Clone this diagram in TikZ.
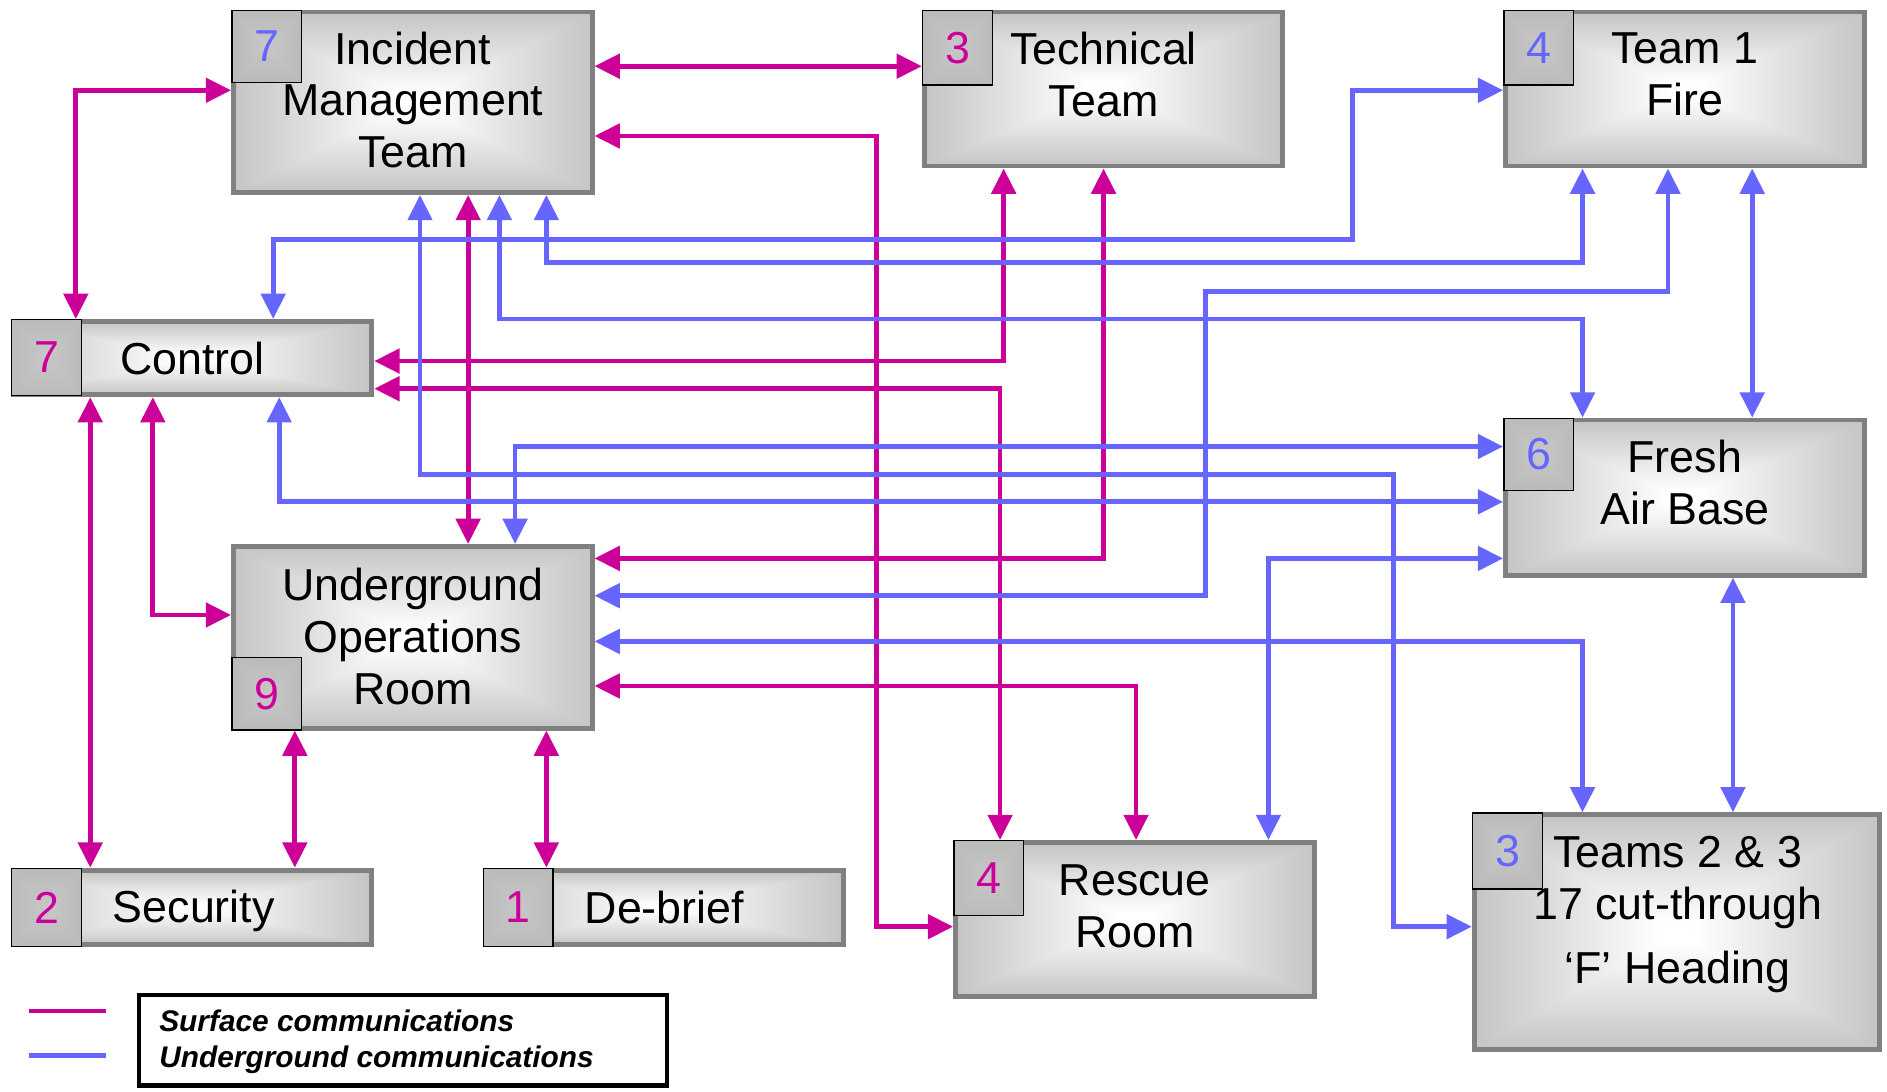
\documentclass[tikz,border=0pt]{standalone}
\usepackage{fontspec}
\setmainfont{Liberation Sans}
\usetikzlibrary{arrows.meta}
\definecolor{mag}{RGB}{204,0,153}
\definecolor{ublue}{RGB}{102,102,255}
\definecolor{rimgray}{RGB}{128,128,128}
% rectangular ("from centre") gradient: white centre, grey towards the edges
\pgfdeclarefunctionalshading{boxshade}{\pgfpoint{-50bp}{-50bp}}{\pgfpoint{50bp}{50bp}}{}{
  abs exch abs 2 copy lt {exch} if pop
  50 div 0.04 sub 0.62 div dup 0 lt {pop 0} if dup 1 gt {pop 1} if
  0.31 mul 1 exch sub dup dup
}
\pgfdeclarefunctionalshading{sqshade}{\pgfpoint{-50bp}{-50bp}}{\pgfpoint{50bp}{50bp}}{}{
  abs exch abs 2 copy lt {exch} if pop
  50 div 0.1 mul 0.78 exch sub dup dup
}
\tikzset{
  unitbox/.style={draw=rimgray, line width=2pt, shading=boxshade, minimum width=149pt, inner sep=0pt},
  numsq/.style={draw=black, line width=0.6pt, shading=sqshade, minimum width=29pt, minimum height=30pt, inner sep=0pt, font=\fontsize{18.6}{21}\selectfont},
  lbl/.style={font=\fontsize{18.6}{21.5}\selectfont, align=center, inner sep=0pt},
  surf/.style={draw=mag, line width=2pt, {Triangle[length=10.5pt,width=10pt]}-{Triangle[length=10.5pt,width=10pt]}},
  under/.style={draw=ublue, line width=2pt, {Triangle[length=10.5pt,width=10pt]}-{Triangle[length=10.5pt,width=10pt]}},
  legline/.style={line width=2pt},
}
\begin{document}
\begin{tikzpicture}[x=0.5pt,y=-0.5pt]
\useasboundingbox (0,0) rectangle (1568,907);
% boxes
\node[unitbox, minimum height=75pt] (imt) at (343,85) {};
\node[unitbox, minimum height=64pt] (tech) at (917,74) {};
\node[unitbox, minimum height=64pt] (team1) at (1400,74) {};
\node[unitbox, minimum height=30.5pt] (ctrl) at (160,297.5) {};
\node[unitbox, minimum height=64.5pt] (fab) at (1400,413.5) {};
\node[unitbox, minimum height=75.5pt] (uor) at (343,529.5) {};
\node[unitbox, minimum height=31pt] (sec) at (160,754) {};
\node[unitbox, minimum height=31pt] (deb) at (552,754) {};
\node[unitbox, minimum height=64pt] (rescue) at (943,764) {};
\node[unitbox, minimum width=168.5pt, minimum height=97.5pt] (teams) at (1393.5,774.5) {};
% number squares
\node[numsq, anchor=north west, text=ublue] (imtn) at (imt.north west) {7};
\node[numsq, anchor=north west, text=mag, minimum height=31pt] (techn) at (tech.north west) {3};
\node[numsq, anchor=north west, text=ublue, minimum height=31pt] (team1n) at (team1.north west) {4};
\node[numsq, anchor=north west, text=mag, minimum height=31.5pt] (ctrln) at (ctrl.north west) {7};
\node[numsq, anchor=north west, text=ublue] (fabn) at (fab.north west) {6};
\node[numsq, anchor=south west, text=mag] (uorn) at (uor.south west) {9};
\node[numsq, anchor=north west, text=mag, minimum height=32.5pt] (secn) at (sec.north west) {2};
\node[numsq, anchor=north west, text=mag, minimum height=32.5pt] (debn) at (deb.north west) {1};
\node[numsq, anchor=north west, text=mag, minimum height=31pt] (rescuen) at (rescue.north west) {4};
\node[numsq, anchor=north west, text=ublue, minimum height=31.5pt] (teamsn) at (teams.north west) {3};
% labels
\node[lbl] (imtt) at (343,83) {Incident\\Management\\Team};
\node[lbl] (techt) at (917,62) {Technical\\Team};
\node[lbl] (team1t) at (1400,62) {Team 1\\Fire};
\node[lbl] (ctrlt) at (160,298) {Control};
\node[lbl] (fabt) at (1400,401) {Fresh\\Air Base};
\node[lbl] (uort) at (343,529) {Underground\\Operations\\Room};
\node[lbl] (sect) at (161,757) {Security};
\node[lbl] (debt) at (552,754) {De-brief};
\node[lbl] (rescuet) at (943,753) {Rescue\\Room};
\node[lbl] (teamst) at (1394,760) {Teams 2 \& 3\\17 cut-through\\[5.5pt]‘F’ Heading};
% surface communications
\draw[surf] (imt.east |- 0,55) -- (tech.west |- 0,55);
\draw[surf] (imt.east |- 0,113) -| (728,770) -- (rescue.west |- 0,770);
\draw[surf] (imt.west |- 0,75) -| (63,0 |- ctrl.north);
\draw[surf] (389,0 |- imt.south) -- (389,0 |- uor.north);
\draw[surf] (834,0 |- tech.south) |- (ctrl.east |- 0,300);
\draw[surf] (ctrl.east |- 0,323) -| (831,0 |- rescue.north);
\draw[surf] (917,0 |- tech.south) |- (uor.east |- 0,464);
\draw[surf] (uor.east |- 0,570) -| (944,0 |- rescue.north);
\draw[surf] (127,0 |- ctrl.south) |- (uor.west |- 0,511);
\draw[surf] (75,0 |- ctrl.south) -- (75,0 |- sec.north);
\draw[surf] (245,0 |- uor.south) -- (245,0 |- sec.north);
\draw[surf] (454,0 |- uor.south) -- (454,0 |- deb.north);
% underground communications
\draw[under] (227,0 |- ctrl.north) |- (1124,199) |- (team1.west |- 0,75);
\draw[under] (454,0 |- imt.south) |- (1315,218) -- (1315,0 |- team1.south);
\draw[under] (415,0 |- imt.south) |- (1315,265) -- (1315,0 |- fab.north);
\draw[under] (349,0 |- imt.south) |- (1158,394) |- (teams.west |- 0,770);
\draw[under] (1386,0 |- team1.south) |- (1002,242) |- (uor.east |- 0,495);
\draw[under] (1456,0 |- team1.south) -- (1456,0 |- fab.north);
\draw[under] (428,0 |- uor.north) |- (fab.west |- 0,371);
\draw[under] (232,0 |- ctrl.south) |- (fab.west |- 0,417);
\draw[under] (fab.west |- 0,464) -| (1054,0 |- rescue.north);
\draw[under] (uor.east |- 0,533) -| (1315,0 |- teams.north);
\draw[under] (1440,0 |- fab.south) -- (1440,0 |- teams.north);
% legend
\coordinate (lm1) at (24,840); \coordinate (lm2) at (88,840);
\coordinate (lb1) at (24,877); \coordinate (lb2) at (88,877);
\draw[legline, draw=mag] (lm1) -- (lm2);
\draw[legline, draw=ublue] (lb1) -- (lb2);
\node[draw=black, line width=1.8pt, minimum width=219.5pt, minimum height=37.5pt, inner sep=0pt] (legend) at (335,864.5) {};
\node[anchor=west, align=left, inner sep=0pt, font=\fontsize{12.4}{15}\selectfont\bfseries\itshape] (legendt) at (132,866) {Surface communications\\Underground communications};
\end{tikzpicture}
\end{document}
